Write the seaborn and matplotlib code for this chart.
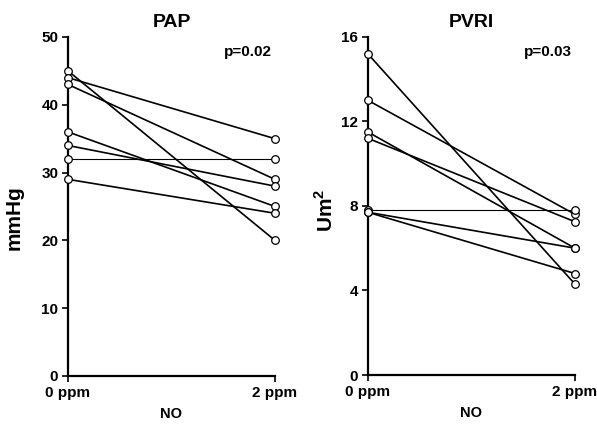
import numpy as np
import pandas as pd
import seaborn as sns
from matplotlib import pyplot as plt

# values, one entry per patient (0 ppm -> 2 ppm)
dose_labels = ["0 ppm", "2 ppm"]
pap_0ppm = [45, 44, 43, 36, 34, 32, 29]
pap_2ppm = [20, 35, 29, 25, 28, 32, 24]
pvri_0ppm = [15.2, 13.0, 11.5, 11.2, 7.8, 7.7, 7.7]
pvri_2ppm = [4.3, 7.6, 6.0, 7.25, 7.8, 6.0, 4.8]

pap_ticks = [0, 10, 20, 30, 40, 50]
pvri_ticks = [0, 4, 8, 12, 16]


def long_frame(before: list[float], after: list[float]) -> pd.DataFrame:
    rows = []
    for i, (b, a) in enumerate(zip(before, after)):
        width = "thin" if b == a else "thick"
        rows.append({"subject": i, "dose": 0, "value": b, "width": width})
        rows.append({"subject": i, "dose": 1, "value": a, "width": width})
    return pd.DataFrame(rows)


def draw_panel(ax, df: pd.DataFrame, title: str, ylabel: str, ticks: list[float], pval: str, label_xy: tuple[float, float]) -> None:
    sns.lineplot(
        data=df, x="dose", y="value", units="subject", estimator=None,
        size="width", sizes={"thick": 1.2, "thin": 0.8}, color="black",
        legend=False, ax=ax, clip_on=False, zorder=2,
    )
    sns.scatterplot(
        data=df, x="dose", y="value", ax=ax, s=30, color="white",
        edgecolor="black", linewidth=0.9, clip_on=False, zorder=3, legend=False,
    )
    ax.set_xlim(0, 1)
    ax.set_ylim(ticks[0], ticks[-1])
    ax.set_xticks([0, 1])
    ax.set_xticklabels(dose_labels)
    ax.set_yticks(ticks)
    ax.set_yticklabels([str(t) for t in ticks])
    ax.set_title(title, fontsize=14, fontweight="bold", pad=7, color="black")
    ax.set_xlabel("NO", fontsize=10.5, fontweight="bold", labelpad=5, color="black")
    ax.set_ylabel(ylabel, fontsize=15, fontweight="bold", color="black")
    ax.yaxis.set_label_coords(*label_xy)
    ax.text(0.985, 0.955, pval, transform=ax.transAxes, ha="right", va="center",
            fontsize=11, fontweight="bold", color="black")
    for side in ["top", "right"]:
        ax.spines[side].set_visible(False)
    for side in ["left", "bottom"]:
        ax.spines[side].set_linewidth(1.6)
        ax.spines[side].set_color("black")
    ax.tick_params(axis="both", direction="out", length=4.5, width=1.2, color="black",
                   labelsize=11, pad=2.5, labelcolor="black", left=True, bottom=True)
    for lab in ax.get_xticklabels() + ax.get_yticklabels():
        lab.set_fontweight("bold")
    ax.grid(False)


sns.set_theme(style="white")
plt.rcParams["font.family"] = ["Liberation Sans", "DejaVu Sans"]
plt.rcParams["mathtext.fontset"] = "custom"
plt.rcParams["mathtext.bf"] = "Liberation Sans:bold"
plt.rcParams["mathtext.rm"] = "Liberation Sans:bold"

fig = plt.figure(figsize=(5.97, 4.26), dpi=100)
ax_pap = fig.add_axes([0.1139, 0.1174, 0.3467, 0.7958])
ax_pvri = fig.add_axes([0.6159, 0.1197, 0.3472, 0.794])

draw_panel(ax_pap, long_frame(pap_0ppm, pap_2ppm), "PAP", "mmHg", pap_ticks, "p=0.02", (-0.2126, 0.466))
draw_panel(ax_pvri, long_frame(pvri_0ppm, pvri_2ppm), "PVRI", r"Um$^{\mathbf{2}}$", pvri_ticks, "p=0.03", (-0.148, 0.488))

fig.savefig("out.png", dpi=100)
